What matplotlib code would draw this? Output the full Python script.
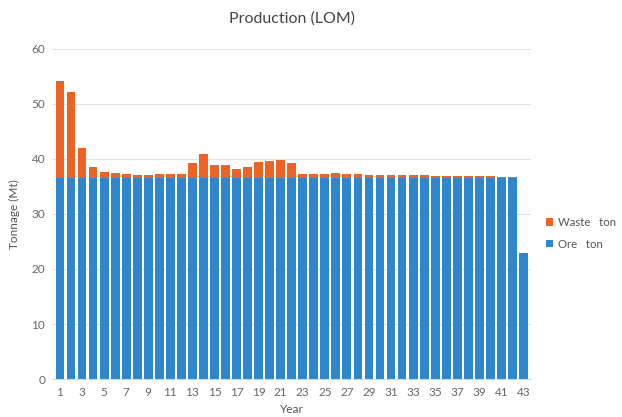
import numpy as np
import matplotlib.pyplot as plt

plt.rcParams['font.family'] = ['Lato', 'DejaVu Sans']

years = np.arange(1, 44)
ore = [36.6] * 42 + [22.9]
total = [54.2, 52.2, 41.9, 38.5, 37.6, 37.4, 37.2, 37.0, 37.0, 37.3,
         37.3, 37.3, 39.2, 40.9, 38.9, 38.9, 38.1, 38.5, 39.5, 39.7,
         39.8, 39.3, 37.2, 37.2, 37.2, 37.5, 37.3, 37.2, 37.0, 37.0,
         37.0, 37.0, 37.0, 37.0, 36.9, 36.9, 36.9, 36.9, 36.9, 36.8,
         36.7, 36.7, 22.9]
waste = [t - o for t, o in zip(total, ore)]

fig = plt.figure(figsize=(6.22, 4.17), dpi=100)
ax = fig.add_axes([0.084, 0.091, 0.77, 0.792])

ore_bars = ax.bar(years, ore, 0.8, color='#2E86CC', zorder=2)
waste_bars = ax.bar(years, waste, 0.8, bottom=ore, color='#EB6426', zorder=2)

ax.set_ylim(0, 60)
ax.set_xlim(0.3, 43.7)
ax.set_yticks(range(0, 61, 10))
ax.set_xticks(years[::2])
ax.yaxis.grid(True, color='#e4e4e4', linewidth=0.8, zorder=0)
for s in ['top', 'right', 'left']:
    ax.spines[s].set_visible(False)
ax.spines['bottom'].set_color('#d9d9d9')
ax.tick_params(axis='both', length=0, colors='#666666', labelsize=8.5)
ax.tick_params(axis='y', pad=5)
ax.tick_params(axis='x', pad=6)

ax.set_xlabel('Year', color='#555555', fontsize=8.5, labelpad=4)
ax.set_ylabel('Tonnage (Mt)', color='#555555', fontsize=8.5)
ax.yaxis.set_label_coords(-0.068, 0.5)
ax.set_title('Production (LOM)', color='#444444', fontsize=11.5, pad=19)

ax.legend((waste_bars[0], ore_bars[0]), ('Waste   ton', 'Ore   ton'),
          loc='upper left', bbox_to_anchor=(1.015, 0.515), frameon=False,
          fontsize=8.2, handlelength=0.6, handleheight=0.6, handletextpad=0.4,
          labelcolor='#555555', labelspacing=0.95, borderaxespad=0.3)

fig.savefig('out.png', dpi=100)
